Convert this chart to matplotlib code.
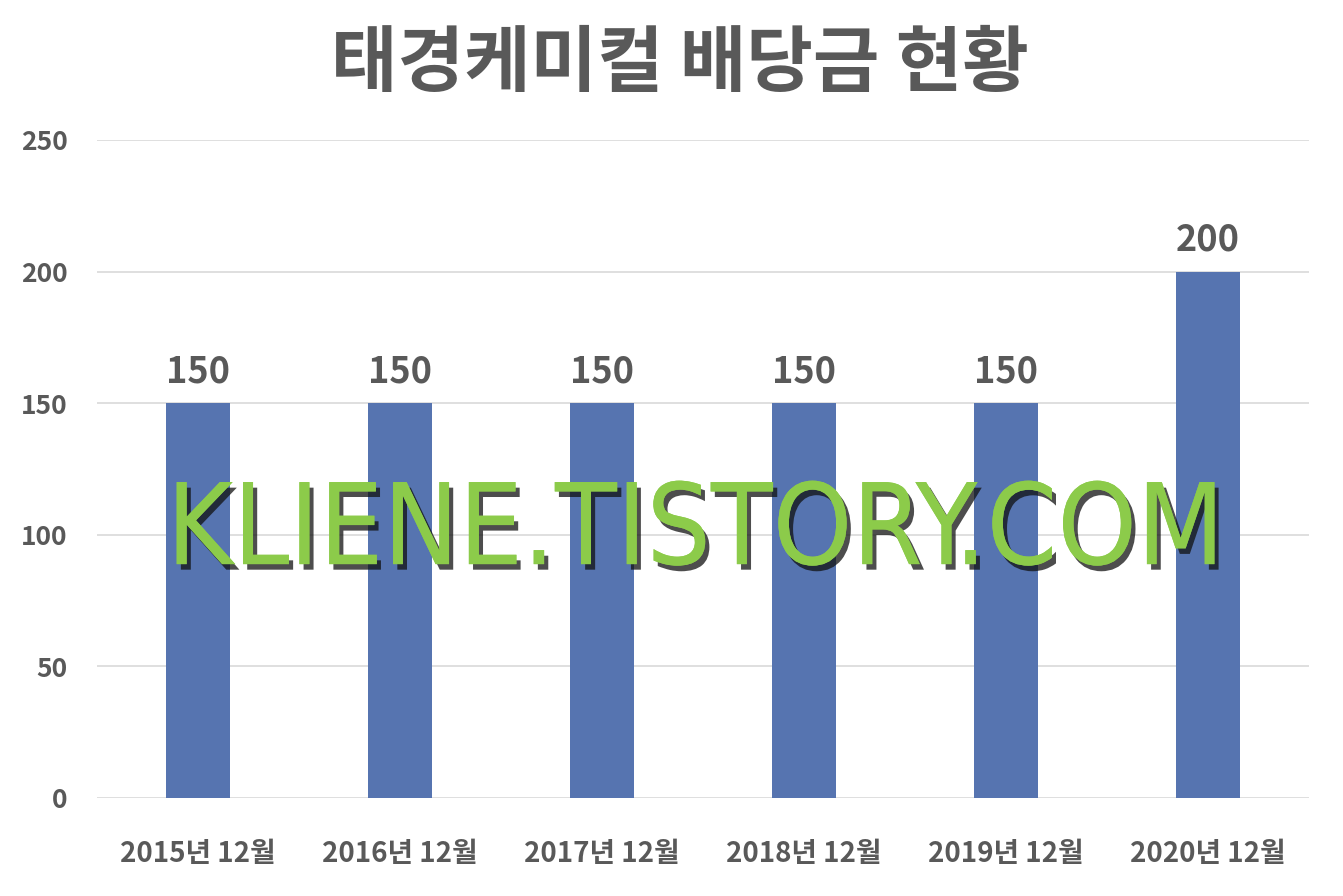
import matplotlib
matplotlib.use('Agg')
import matplotlib.pyplot as plt
import matplotlib.patheffects as pe

plt.rcParams['font.family'] = ['Noto Sans CJK KR', 'DejaVu Sans']

categories = ['2015년 12월', '2016년 12월', '2017년 12월', '2018년 12월', '2019년 12월', '2020년 12월']
dividends = [150, 150, 150, 150, 150, 200]
yticks = [0, 50, 100, 150, 200, 250]

text_color = '#595959'
bar_color = '#5674B0'

fig = plt.figure(figsize=(13.43, 8.96), dpi=100)
ax = fig.add_axes([0.0722, 0.1094, 0.9025, 0.7344])

x = range(len(categories))
bars = ax.bar(x, dividends, width=0.317, color=bar_color, zorder=2)

for xi, v in zip(x, dividends):
    ax.text(xi, v + 5, str(v), ha='center', va='bottom', fontsize=26,
            fontweight='bold', color=text_color)

ax.set_xlim(-0.5, len(categories) - 0.5)
ax.set_ylim(0, 250)
ax.set_yticks(yticks)
ax.set_xticks(list(x))
ax.set_xticklabels(categories, fontsize=20, fontweight='bold', color=text_color)
ax.set_yticklabels([str(t) for t in yticks], fontsize=19, fontweight='bold', color=text_color)
ax.tick_params(axis='both', length=0)
ax.tick_params(axis='x', pad=30)
ax.tick_params(axis='y', pad=21)
ax.yaxis.grid(True, color='#D9D9D9', linewidth=1.2, zorder=0)
for s in ax.spines.values():
    s.set_visible(False)

fig.text(0.506, 0.928, '태경케미컬 배당금 현황', ha='center', va='center',
         fontsize=52, fontweight='heavy', color=text_color)

# watermark
fig.text(0.518, 0.405, 'KLIENE.TISTORY.COM', ha='center', va='center',
         fontsize=81, color='#8CCB4A', family=['DejaVu Sans'], fontstretch='condensed',
         zorder=5,
         path_effects=[pe.withSimplePatchShadow(offset=(3, -4), shadow_rgbFace='#111111', alpha=0.75),
                       pe.Normal()])

fig.savefig('out.png', dpi=100)
